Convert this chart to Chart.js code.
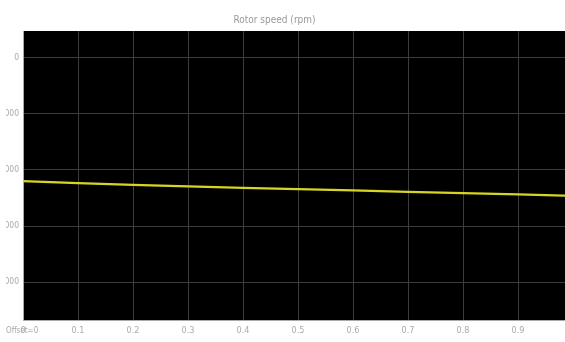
<!DOCTYPE html>
<html>
<head>
<meta charset="utf-8">
<script src="https://cdn.jsdelivr.net/npm/chart.js@4"></script>
<style>
  html, body { margin: 0; padding: 0; background: #fff; overflow: hidden; }
  #clip { position: absolute; left: 6px; top: 0; width: 559px; height: 342px; overflow: hidden; }
  #box { position: absolute; left: -30px; top: 0; width: 630px; height: 342px; }
</style>
</head>
<body>
<div id="clip"><div id="box"><canvas id="speedChart"></canvas></div></div>
<script>
// time (s) and rotor speed (rpm)
const timeValues = [0, 0.1, 0.2, 0.3, 0.4, 0.5, 0.6, 0.7, 0.8, 0.9, 1.0];
const speedValues = [-2200, -2235, -2265, -2292, -2318, -2342, -2365, -2390, -2413, -2436, -2462];
const speedTicks = [0, -1000, -2000, -3000, -4000];
const chartTitle = 'Rotor speed (rpm)';
const offsetLabel = 'Offset=0';

const labelFont = "'Liberation Sans Narrow', 'DejaVu Sans Condensed', 'Liberation Sans', sans-serif";

// black plot area, and the time offset text in the corner
const scopePlugin = {
    id: 'scope',
    beforeDraw(chart) {
        const a = chart.chartArea;
        const c = chart.ctx;
        c.save();
        c.fillStyle = '#000';
        c.fillRect(a.left, a.top, a.right - a.left, a.bottom - a.top);
        c.restore();
    },
    afterDraw(chart) {
        const c = chart.ctx;
        c.save();
        c.fillStyle = '#aaa';
        c.font = '8px ' + labelFont;
        c.textBaseline = 'middle';
        c.fillText(offsetLabel, 30, 331);
        c.restore();
    },
};

const ctx = document.getElementById('speedChart').getContext('2d');
const speedChart = new Chart(ctx, {
    type: 'line',
    data: {
        datasets: [{
            label: chartTitle,
            data: timeValues.map((t, i) => ({ x: t, y: speedValues[i] })),
            borderColor: '#d6d622',
            borderWidth: 2.2,
            pointRadius: 0,
            tension: 0,
        }],
    },
    options: {
        responsive: true,
        maintainAspectRatio: false,
        animation: false,
        layout: { padding: { left: 0, right: 33, top: 0, bottom: 1 } },
        plugins: {
            legend: { display: false },
            tooltip: { enabled: false },
            title: {
                display: true,
                text: chartTitle,
                color: '#999',
                font: { family: labelFont, size: 10, weight: 'normal' },
                padding: { top: 14, bottom: 5 },
            },
        },
        scales: {
            x: {
                type: 'linear',
                min: 0,
                max: 1,
                grid: { color: '#3c3c3c', drawTicks: false },
                border: { color: '#aaa' },
                ticks: {
                    stepSize: 0.1,
                    padding: 5,
                    color: '#aaa',
                    font: { family: labelFont, size: 9 },
                    callback: function(value) {
                        return value === 0 ? '0' : value.toFixed(1);
                    },
                },
            },
            y: {
                min: -4680,
                max: 480,
                afterFit: function(scale) { scale.width = 47; },
                afterBuildTicks: function(scale) {
                    scale.ticks = speedTicks.map(v => ({ value: v }));
                },
                grid: { color: '#3c3c3c', drawTicks: false },
                border: { color: '#aaa' },
                ticks: {
                    padding: 4,
                    color: '#aaa',
                    font: { family: labelFont, size: 8.5 },
                },
            },
        },
    },
    plugins: [scopePlugin],
});
</script>
</body>
</html>
